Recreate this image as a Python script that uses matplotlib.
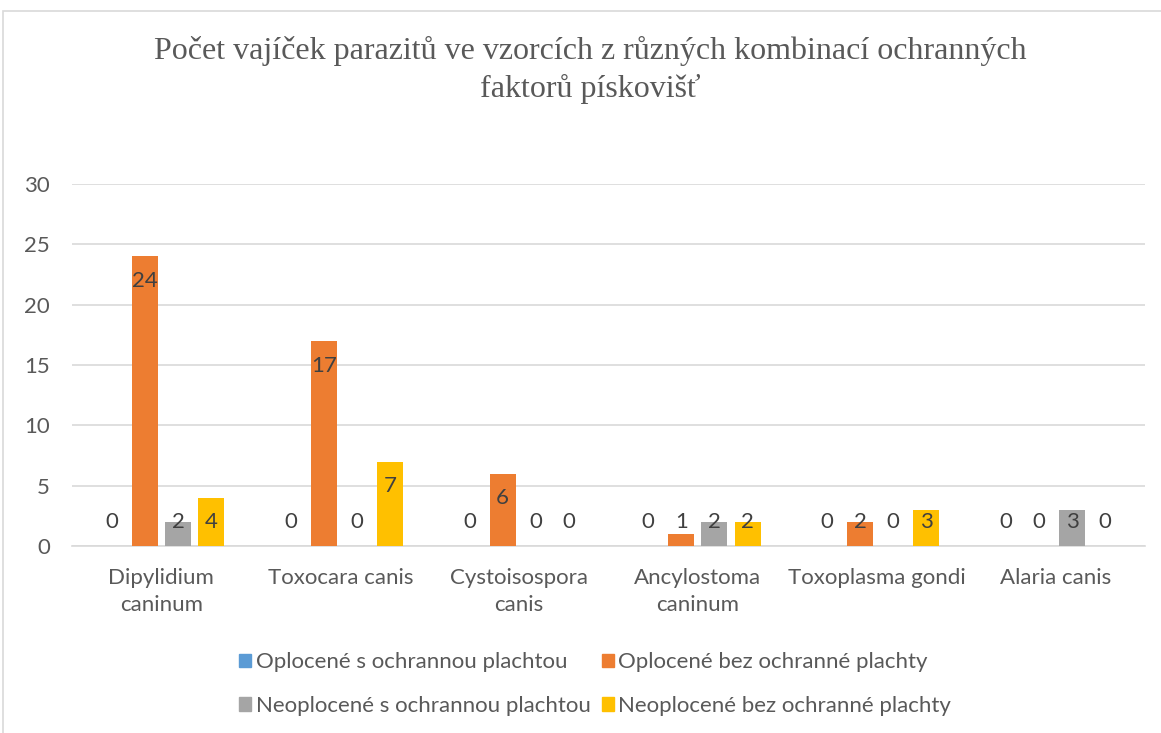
import matplotlib
matplotlib.use("Agg")
import matplotlib.pyplot as plt
import numpy as np
from matplotlib.patches import Rectangle

categories = ["Dipylidium\ncaninum", "Toxocara canis", "Cystoisospora\ncanis",
              "Ancylostoma\ncaninum", "Toxoplasma gondi", "Alaria canis"]
series_names = ["Oplocené s ochrannou plachtou", "Oplocené bez ochranné plachty",
                "Neoplocené s ochrannou plachtou", "Neoplocené bez ochranné plachty"]
oploc_s = [0, 0, 0, 0, 0, 0]
oploc_bez = [24, 17, 6, 1, 2, 0]
neoploc_s = [2, 0, 0, 2, 0, 3]
neoploc_bez = [4, 7, 0, 2, 3, 0]
series = [oploc_s, oploc_bez, neoploc_s, neoploc_bez]
colors = ["#5B9BD5", "#ED7D31", "#A5A5A5", "#FFC000"]
yticks = [0, 5, 10, 15, 20, 25, 30]
title = "Počet vajíček parazitů ve vzorcích z různých kombinací ochranných\nfaktorů pískovišť"

txt = "#595959"
font = ["Lato", "DejaVu Sans"]

fig = plt.figure(figsize=(11.61, 7.33), dpi=100)
fig.patches.append(Rectangle((3/1161, -0.1), 1.2, 1 - 11/733 + 0.1, transform=fig.transFigure,
                             fill=False, edgecolor="#d9d9d9", linewidth=1.2))
ax = fig.add_axes([72/1161, 1 - 546/733, (1145 - 72)/1161, (546 - 184)/733])

x = np.arange(len(categories))
w = 0.145
step = 0.185
for i, (vals, c) in enumerate(zip(series, colors)):
    pos = x + (i - 1.5) * step
    ax.bar(pos, vals, width=w, color=c, label=series_names[i], zorder=3)
    for p, v in zip(pos, vals):
        ly = max(v, 4.05) - 2.05
        ax.text(p, ly, str(v), ha="center", va="center", fontsize=16, color="#404040",
                family=font, zorder=4)

ax.set_ylim(0, 30)
ax.set_xlim(-0.5, len(categories) - 0.5)
ax.set_yticks(yticks)
ax.set_xticks(x)
ax.set_xticklabels(categories, family=font, fontsize=16, color=txt, linespacing=1.45)
ax.set_yticklabels([str(t) for t in yticks], family=font, fontsize=16, color=txt)
ax.tick_params(axis="both", length=0)
ax.tick_params(axis="y", pad=16)
ax.tick_params(axis="x", pad=16)
ax.yaxis.grid(True, color="#d9d9d9", linewidth=1.2, zorder=0)
for s in ["top", "right", "left"]:
    ax.spines[s].set_visible(False)
ax.spines["bottom"].set_color("#d9d9d9")
ax.spines["bottom"].set_linewidth(1.2)

fig.text(590/1161, 1 - 70/733, title, ha="center", va="center", family=["Liberation Serif"],
         fontsize=23, color=txt, linespacing=1.35)

order = [0, 2, 1, 3]
handles = [Rectangle((0, 0), 1, 1, color=colors[k]) for k in order]
labels = [series_names[k] for k in order]
leg = fig.legend(handles, labels, loc="center", bbox_to_anchor=(595/1161, 1 - 684/733),
                 ncol=2, frameon=False, prop={"family": font, "size": 16},
                 handlelength=0.55, handleheight=0.55, handletextpad=0.2, columnspacing=0.5,
                 labelspacing=1.05)
for t in leg.get_texts():
    t.set_color(txt)

fig.savefig("out.png", dpi=100, facecolor="white")
